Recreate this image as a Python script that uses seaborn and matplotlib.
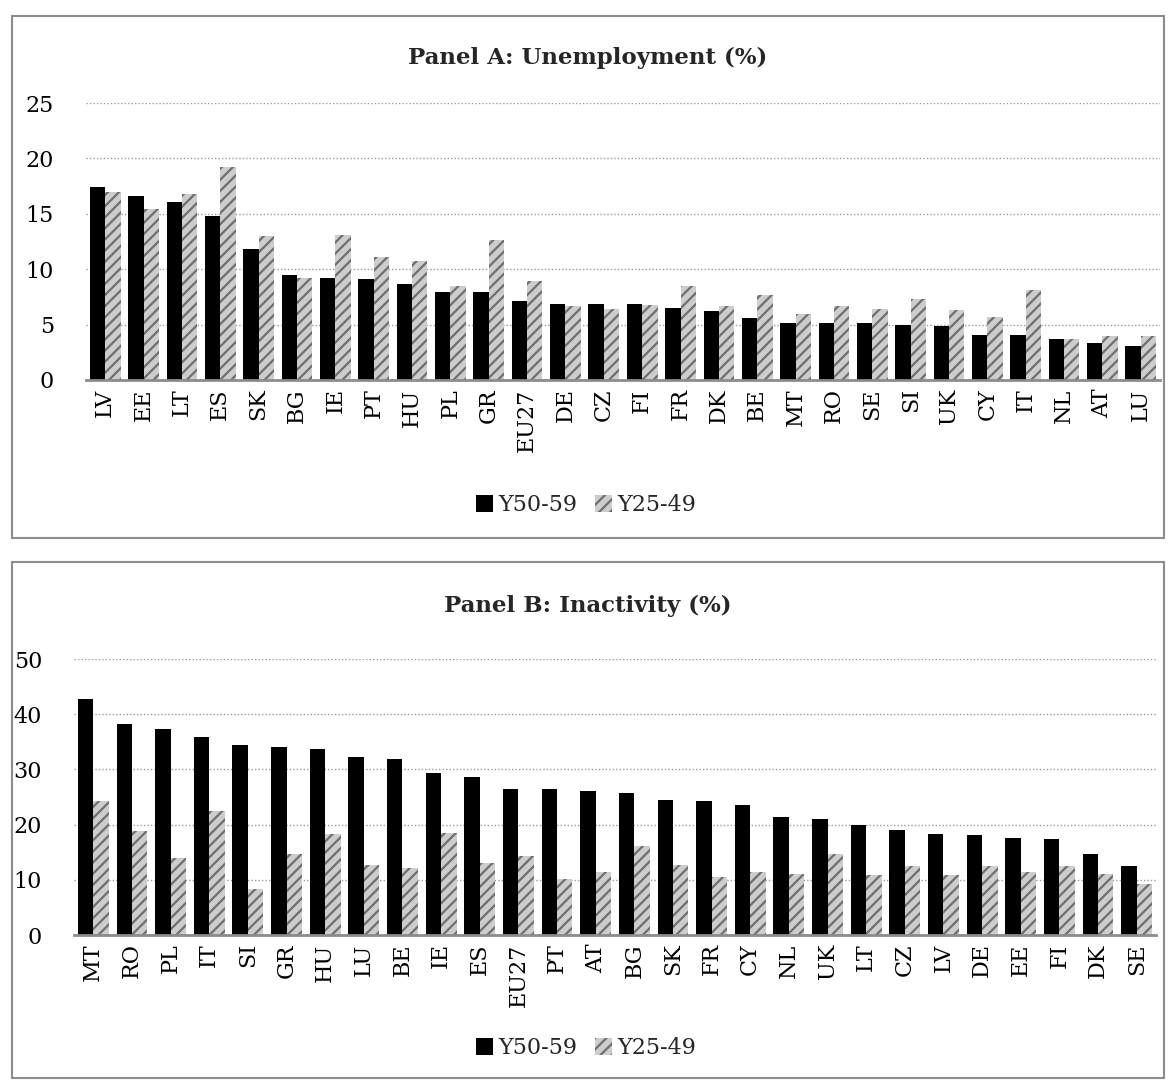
import numpy as np
import pandas as pd
import seaborn as sns
import matplotlib.pyplot as plt
from matplotlib.patches import Rectangle, Patch

# Panel A: unemployment (%)
countries_a = ["LV", "EE", "LT", "ES", "SK", "BG", "IE", "PT", "HU", "PL", "GR", "EU27", "DE", "CZ",
               "FI", "FR", "DK", "BE", "MT", "RO", "SE", "SI", "UK", "CY", "IT", "NL", "AT", "LU"]
old_a = [17.4, 16.6, 16.1, 14.8, 11.8, 9.5, 9.2, 9.1, 8.7, 7.9, 7.9, 7.1, 6.9, 6.9,
         6.9, 6.5, 6.2, 5.6, 5.1, 5.1, 5.1, 5.0, 4.9, 4.1, 4.1, 3.7, 3.3, 3.1]
young_a = [17.0, 15.4, 16.8, 19.2, 13.0, 9.2, 13.1, 11.1, 10.7, 8.5, 12.6, 8.9, 6.7, 6.4,
           6.8, 8.5, 6.7, 7.7, 6.0, 6.7, 6.4, 7.3, 6.3, 5.7, 8.1, 3.7, 4.0, 4.0]

# Panel B: inactivity (%)
countries_b = ["MT", "RO", "PL", "IT", "SI", "GR", "HU", "LU", "BE", "IE", "ES", "EU27", "PT", "AT",
               "BG", "SK", "FR", "CY", "NL", "UK", "LT", "CZ", "LV", "DE", "EE", "FI", "DK", "SE"]
old_b = [42.8, 38.3, 37.4, 35.8, 34.5, 34.0, 33.7, 32.3, 31.9, 29.4, 28.7, 26.4, 26.4, 26.1,
         25.7, 24.4, 24.2, 23.5, 21.3, 21.0, 20.0, 19.1, 18.3, 18.1, 17.6, 17.4, 14.7, 12.5]
young_b = [24.3, 18.9, 14.0, 22.5, 8.4, 14.7, 18.3, 12.7, 12.2, 18.5, 13.1, 14.4, 10.2, 11.5,
           16.1, 12.7, 10.5, 11.4, 11.1, 14.6, 10.9, 12.5, 10.9, 12.5, 11.4, 12.5, 11.0, 9.3]

groups = ["Y50-59", "Y25-49"]

sns.set_theme(style="white")
plt.rcParams['font.family'] = ['DejaVu Serif']
plt.rcParams['hatch.linewidth'] = 1.6

W, H = 1176, 1088
fig = plt.figure(figsize=(W / 100, H / 100), dpi=100)

GRAY = "#cdcdcd"
STRIPE = "#6f6f6f"


def draw_panel(box, frame, cats, old, young, ymax, step, title, title_y, legend_y):
    df = pd.DataFrame({
        "country": cats * 2,
        "value": old + young,
        "group": [groups[0]] * len(cats) + [groups[1]] * len(cats),
    })
    l, t, r, b = box
    ax = fig.add_axes([l / W, 1 - b / H, (r - l) / W, (b - t) / H])
    sns.barplot(data=df, x="country", y="value", hue="group", hue_order=groups,
                palette=["black", GRAY], saturation=1, width=0.8, ax=ax, legend=False)
    for bar in ax.containers[1]:
        bar.set_hatch("///")
        bar.set_edgecolor(STRIPE)
        bar.set_linewidth(0)
    for bar in ax.containers[0]:
        bar.set_linewidth(0)

    ax.set_xlim(-0.5, len(cats) - 0.5)
    ax.set_ylim(0, ymax)
    ax.set_yticks(np.arange(0, ymax + 1, step))
    ax.set_xlabel("")
    ax.set_ylabel("")
    ax.yaxis.grid(True, linestyle=(0, (1, 1.5)), color="#9a9a9a", linewidth=1)
    ax.set_axisbelow(True)
    for s in ["left", "right", "top"]:
        ax.spines[s].set_visible(False)
    ax.spines["bottom"].set_color("#8c8c8c")
    ax.spines["bottom"].set_linewidth(2)
    ax.tick_params(axis="y", length=0, pad=23, labelsize=16, colors="black")
    ax.tick_params(axis="x", length=0, pad=6, labelsize=16, rotation=90, colors="black")

    fl, ft, fr, fb = frame
    fig.add_artist(Rectangle((fl / W, 1 - fb / H), (fr - fl) / W, (fb - ft) / H,
                             transform=fig.transFigure, fill=False,
                             edgecolor="#8c8c8c", linewidth=1.5))
    fig.text(0.5 * (fl + fr) / W, 1 - title_y / H, title, ha="center", va="center",
             fontsize=16.5, fontweight="bold")

    handles = [Patch(facecolor="black", linewidth=0),
               Patch(facecolor=GRAY, hatch="///", edgecolor=STRIPE, linewidth=0)]
    fig.legend(handles, groups, loc="center", bbox_to_anchor=(0.498, 1 - legend_y / H),
               ncol=2, frameon=False, fontsize=16, handlelength=0.8, handleheight=0.8,
               handletextpad=0.2, columnspacing=0.8)
    return ax


draw_panel((86, 103, 1160, 380), (12, 16, 1164, 538), countries_a, old_a, young_a,
           25, 5, "Panel A: Unemployment (%)", 58, 505)
draw_panel((74, 659, 1156, 935), (12, 562, 1164, 1078), countries_b, old_b, young_b,
           50, 10, "Panel B: Inactivity (%)", 606, 1048)

fig.savefig("out.png", dpi=100)
